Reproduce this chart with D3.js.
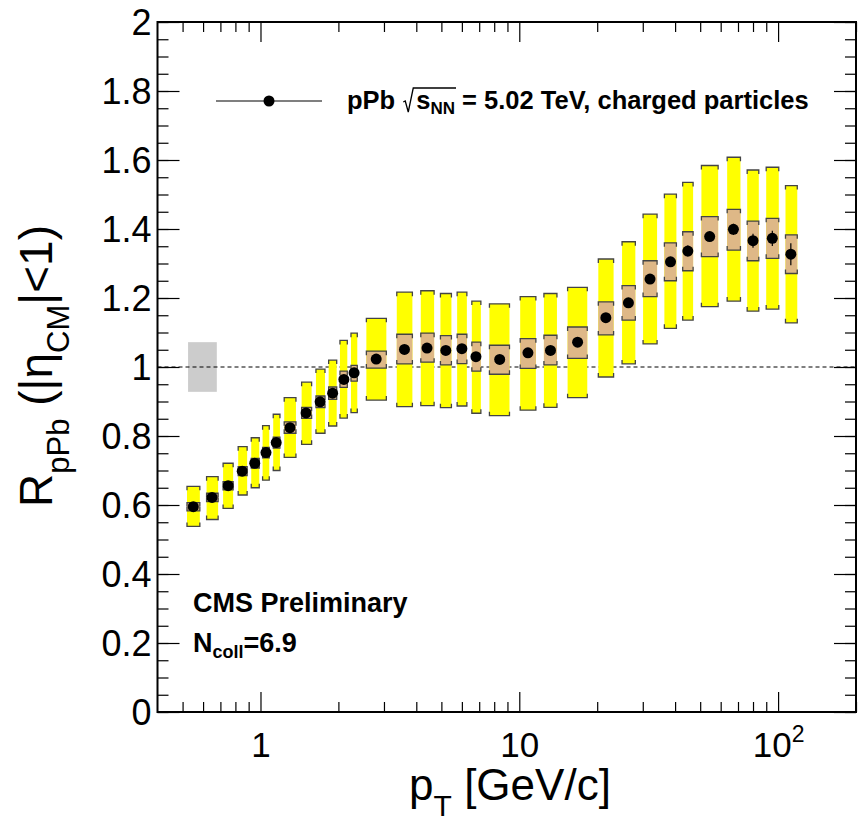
<!DOCTYPE html>
<html><head><meta charset="utf-8">
<script src="https://cdn.jsdelivr.net/npm/d3@7"></script>
<style>
body{margin:0;background:#fff}
svg{display:block}
text{font-family:"Liberation Sans",Arial,Helvetica,sans-serif;fill:#000;white-space:pre}
</style>
</head><body>
<svg id="c" width="858" height="823"></svg>
<script>
// ---- data ----
const pt     = [0.55,0.65,0.75,0.85,0.95,1.05,1.15,1.3,1.5,1.7,1.9,2.1,2.3,2.8,3.6,4.4,5.2,6.0,6.8,8.4,10.8,13.2,16.8,21.6,26.4,32.0,38.4,44.8,54.4,67.2,80.0,95.0,112.0];
const rpPb   = [0.595,0.622,0.656,0.698,0.721,0.752,0.781,0.824,0.867,0.899,0.924,0.964,0.983,1.023,1.051,1.055,1.048,1.053,1.030,1.022,1.041,1.048,1.072,1.143,1.186,1.255,1.305,1.336,1.378,1.399,1.366,1.373,1.327];
const statErr= [0.004,0.004,0.004,0.004,0.004,0.004,0.004,0.004,0.004,0.004,0.004,0.004,0.004,0.004,0.004,0.004,0.004,0.004,0.005,0.005,0.006,0.007,0.008,0.010,0.010,0.012,0.014,0.016,0.014,0.016,0.020,0.022,0.032];
const totLo  = [0.538,0.558,0.590,0.629,0.650,0.672,0.700,0.738,0.776,0.808,0.829,0.852,0.868,0.904,0.885,0.888,0.882,0.887,0.866,0.859,0.875,0.883,0.911,0.971,1.009,1.067,1.112,1.136,1.175,1.191,1.162,1.168,1.128];
const totHi  = [0.654,0.682,0.721,0.769,0.795,0.830,0.863,0.911,0.956,0.994,1.020,1.077,1.098,1.141,1.217,1.221,1.213,1.217,1.191,1.183,1.204,1.213,1.231,1.313,1.363,1.443,1.501,1.535,1.584,1.608,1.571,1.579,1.526];
const sysLo  = [0.583,0.610,0.644,0.685,0.707,0.737,0.765,0.808,0.851,0.882,0.906,0.941,0.959,0.997,1.009,1.014,1.006,1.010,0.988,0.979,0.996,1.006,1.025,1.093,1.136,1.204,1.250,1.279,1.320,1.339,1.308,1.315,1.271];
const sysHi  = [0.607,0.634,0.668,0.711,0.735,0.767,0.797,0.841,0.883,0.916,0.942,0.988,1.005,1.046,1.095,1.098,1.091,1.095,1.072,1.063,1.082,1.092,1.116,1.189,1.236,1.308,1.360,1.392,1.436,1.457,1.423,1.431,1.383];
const boxLo  = [0.520,0.619,0.717,0.820,0.921,1.019,1.120,1.235,1.442,1.638,1.834,2.028,2.237,2.565,3.362,4.163,4.958,5.752,6.556,7.667,10.08,12.45,15.37,20.20,24.95,30.08,36.36,42.79,50.55,63.56,75.95,89.95,106.8];
const boxHi  = [0.583,0.686,0.784,0.888,0.989,1.081,1.189,1.371,1.576,1.775,1.970,2.165,2.366,3.064,3.863,4.687,5.467,6.272,7.104,9.165,11.59,13.98,18.31,23.14,28.08,34.07,40.46,46.95,58.66,71.54,84.22,100.6,118.6];
const normUnc = 0.072;            // global normalisation uncertainty around 1
const normPt  = [0.525, 0.678];   // pT extent of the grey box
const xMajor = [1, 10, 100];
const xMinor = [0.5,0.6,0.7,0.8,0.9,2,3,4,5,6,7,8,9,20,30,40,50,60,70,80,90,200];
const yMajor = [0,0.2,0.4,0.6,0.8,1,1.2,1.4,1.6,1.8,2];
const yMinor = d3.range(0, 2.001, 0.05);

// ---- layout ----
const svg = d3.select("#c");
const L = 157.5, R = 856, T = 22, B = 712;
const x = d3.scaleLog().domain([0.4, 200]).range([L, R]);
const y = d3.scaleLinear().domain([0, 2]).range([B, T]);

const data = pt.map((p,i)=>({p, v:rpPb[i], s:statErr[i], tl:totLo[i], th:totHi[i], sl:sysLo[i], sh:sysHi[i], bl:boxLo[i], bh:boxHi[i]}));

// grey normalisation box
svg.append("rect")
  .attr("x", x(normPt[0])).attr("width", x(normPt[1]) - x(normPt[0]))
  .attr("y", y(1 + normUnc)).attr("height", y(1 - normUnc) - y(1 + normUnc))
  .attr("fill", "#cccccc");

// dashed line at 1
svg.append("line").attr("x1", L).attr("x2", R).attr("y1", y(1)).attr("y2", y(1))
  .attr("stroke", "#000").attr("stroke-width", 1).attr("stroke-dasharray", "4,3");

function boxes(cls, lo, hi, fill) {
  const g = svg.append("g").attr("class", cls);
  const c = 4;
  data.forEach(d => {
    const x0 = x(d.bl), x1 = x(d.bh), y0 = y(d[hi]), y1 = y(d[lo]);
    g.append("rect").attr("x", x0).attr("y", y0).attr("width", x1 - x0).attr("height", y1 - y0).attr("fill", fill);
    g.append("path")
      .attr("d", `M${x0},${y0+c}V${y0}H${x1}V${y0+c}M${x0},${y1-c}V${y1}H${x1}V${y1-c}`)
      .attr("fill", "none").attr("stroke", "#444").attr("stroke-width", 1.3);
  });
}
boxes("tot", "tl", "th", "#ffff00");
boxes("sys", "sl", "sh", "#deb887");

// stat error bars + markers
svg.append("g").selectAll("line").data(data).join("line")
  .attr("x1", d => x(d.p)).attr("x2", d => x(d.p))
  .attr("y1", d => y(d.v - d.s)).attr("y2", d => y(d.v + d.s))
  .attr("stroke", "#000").attr("stroke-width", 1.2);
svg.append("g").selectAll("circle").data(data).join("circle")
  .attr("cx", d => x(d.p)).attr("cy", d => y(d.v)).attr("r", 5.5).attr("fill", "#000");

// ---- axes ----
function noDomain(g){ g.select(".domain").remove(); g.selectAll("line").attr("stroke","#000").attr("stroke-width",1.2); }
svg.append("g").attr("transform", `translate(0,${B})`)
  .call(d3.axisBottom(x).tickValues(xMinor).tickSizeInner(-10).tickFormat("")).call(noDomain);
const xb = svg.append("g").attr("transform", `translate(0,${B})`)
  .call(d3.axisBottom(x).tickValues(xMajor).tickSizeInner(-20).tickPadding(20).tickFormat(d3.format("d"))).call(noDomain);
xb.selectAll("text").attr("font-size", 35).attr("font-family", null);
xb.selectAll("text").filter(d => d === 100).text(null)
  .call(t => { t.append("tspan").text("10"); t.append("tspan").attr("font-size", 23).attr("dy", -15).text("2"); });
svg.append("g").attr("transform", `translate(0,${T})`)
  .call(d3.axisTop(x).tickValues(xMinor).tickSizeInner(-10).tickFormat("")).call(noDomain);
svg.append("g").attr("transform", `translate(0,${T})`)
  .call(d3.axisTop(x).tickValues(xMajor).tickSizeInner(-20).tickFormat("")).call(noDomain);

svg.append("g").attr("transform", `translate(${L},0)`)
  .call(d3.axisLeft(y).tickValues(yMinor).tickSizeInner(-11).tickFormat("")).call(noDomain);
const yl = svg.append("g").attr("transform", `translate(${L},0)`)
  .call(d3.axisLeft(y).tickValues(yMajor).tickSizeInner(-22).tickPadding(6).tickFormat(d3.format("~g"))).call(noDomain);
yl.selectAll("text").attr("font-size", 36).attr("font-family", null).attr("dy", "0.36em");
svg.append("g").attr("transform", `translate(${R},0)`)
  .call(d3.axisRight(y).tickValues(yMinor).tickSizeInner(-11).tickFormat("")).call(noDomain);
svg.append("g").attr("transform", `translate(${R},0)`)
  .call(d3.axisRight(y).tickValues(yMajor).tickSizeInner(-22).tickFormat("")).call(noDomain);

// frame
svg.append("rect").attr("x", L).attr("y", T).attr("width", R - L).attr("height", B - T)
  .attr("fill", "none").attr("stroke", "#000").attr("stroke-width", 2);

// ---- titles ----
// y title
const yt = svg.append("text").attr("transform", "translate(52,366) rotate(-90)")
  .attr("text-anchor", "middle").attr("font-size", 46);
yt.append("tspan").text("R");
yt.append("tspan").attr("font-size", 31).attr("dy", 17).text("pPb");
yt.append("tspan").attr("dy", -17).text(" (|η");
yt.append("tspan").attr("font-size", 31).attr("dy", 17).text("CM");
yt.append("tspan").attr("dy", -17).text("|<1)");

// x title
const xt = svg.append("text").attr("x", 510).attr("y", 800).attr("text-anchor", "middle").attr("font-size", 44);
xt.append("tspan").text("p");
xt.append("tspan").attr("font-size", 30).attr("dy", 16).text("T");
xt.append("tspan").attr("dy", -16).text(" [GeV/c]");

// legend
const lgY = 101;
svg.append("line").attr("x1", 216).attr("x2", 322).attr("y1", lgY).attr("y2", lgY).attr("stroke", "#000").attr("stroke-width", 1.2);
svg.append("circle").attr("cx", 269).attr("cy", lgY).attr("r", 5.5).attr("fill", "#000");

function seq(x0, base, parts) {
  let cx = x0; const out = [];
  parts.forEach(p => {
    if (p.gap) { out.push(cx); cx += p.gap; return; }
    const t = svg.append("text").attr("x", cx).attr("y", base + (p.dy || 0))
      .attr("font-size", p.size).attr("font-weight", "bold").text(p.t);
    out.push(cx);
    cx += t.node().getComputedTextLength();
  });
  out.push(cx);
  return out;
}
const lb = 109;
const pos = seq(347, lb, [
  {t:"pPb ", size:25.5},
  {gap:14},
  {t:"s", size:25.5},
  {t:"NN", size:17, dy:5},
  {t:" = 5.02 TeV, charged particles", size:25.5}
]);
// radical sign
{
  const rx = pos[1], ex = pos[4] + 1;
  svg.append("path")
    .attr("d", `M${rx+1},${lb-7}L${rx+3},${lb-8}L${rx+6},${lb+3}L${rx+11},${lb-21}H${ex}`)
    .attr("fill", "none").attr("stroke", "#000").attr("stroke-width", 1.3);
}

// CMS label
svg.append("text").attr("x", 193).attr("y", 612).attr("font-size", 27).attr("font-weight", "bold").text("CMS Preliminary");
seq(193, 652, [
  {t:"N", size:27},
  {t:"coll", size:18, dy:6},
  {t:"=6.9", size:27}
]);
</script>
</body></html>
